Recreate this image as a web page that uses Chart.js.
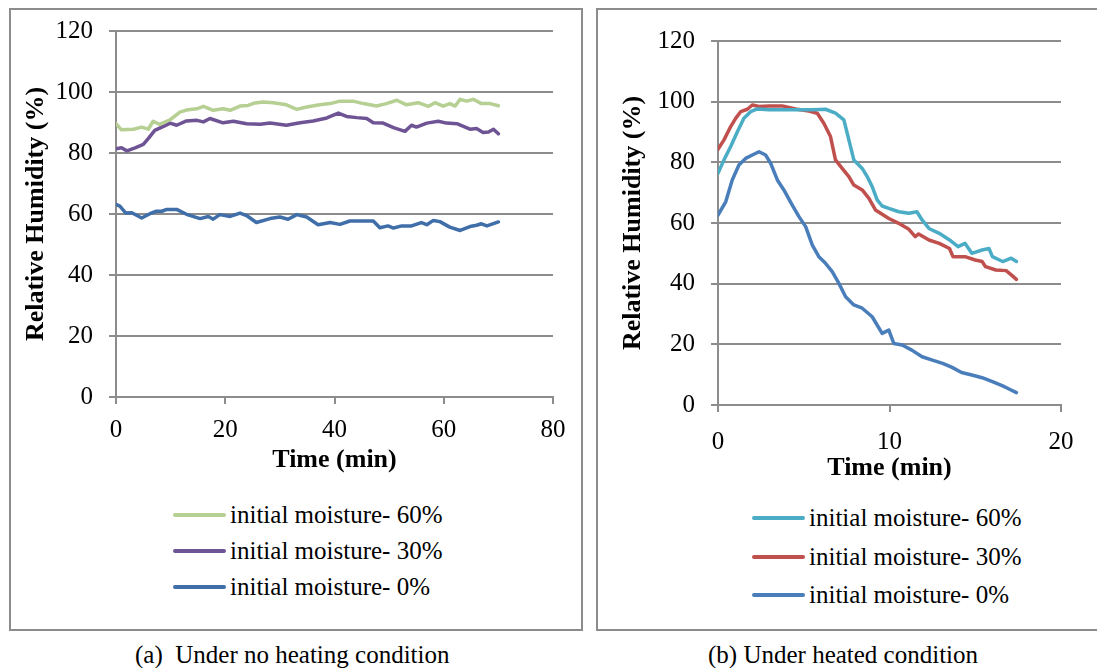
<!DOCTYPE html>
<html>
<head>
<meta charset="utf-8">
<script src="https://cdn.jsdelivr.net/npm/chart.js@4/dist/chart.umd.min.js"></script>
<style>
  body { margin: 0; background: #fff; width: 1097px; height: 668px; overflow: hidden; position: relative; font-family: "Liberation Serif", "Times New Roman", Tinos, "Nimbus Roman", "DejaVu Serif", serif; }
  .panel { position: absolute; border: 2px solid #8c8c8c; box-sizing: border-box; }
  canvas { position: absolute; }
  .legend { position: absolute; font-size: 25px; color: #000; }
  .legend .row { position: absolute; white-space: nowrap; height: 30px; line-height: 30px; }
  .legend .sw { position: absolute; left: 0; top: 13px; width: 53px; height: 4px; border-radius: 2px; }
  .legend .tx { position: absolute; left: 57px; top: 0; }
  .caption { position: absolute; font-size: 25px; white-space: nowrap; top: 641px; }
</style>
</head>
<body>
<div class="panel" style="left:9px; top:8px; width:574px; height:623px;"></div>
<div class="panel" style="left:596px; top:8px; width:520px; height:623px;"></div>
<canvas id="chartA" width="590" height="490" style="left:0; top:0;"></canvas>
<canvas id="chartB" width="507" height="500" style="left:590px; top:0;"></canvas>
<div class="legend" id="legendA" style="left:173px; top:500px;"></div>
<div class="legend" id="legendB" style="left:752px; top:503px;"></div>
<div class="caption" style="left:135px;">(a)&nbsp; Under no heating condition</div>
<div class="caption" style="left:708px;">(b) Under heated condition</div>
<script>
// (a) no heating
const timeA60 = [0, 1, 3.2, 4.7, 5.9, 6.8, 8, 9.9, 11.7, 13.2, 14.8, 16, 17.8, 19.6, 20.9, 22.7, 24.2, 25.4, 27, 28.8, 31.2, 33.1, 34.9, 37.3, 39.2, 41, 43.4, 45.3, 47.7, 49.5, 51.4, 53.2, 55.3, 57.2, 58.4, 59.9, 61.1, 62.1, 63, 64.2, 65.4, 66.9, 68.5, 70];
const rhA60 = [89.6, 87.6, 87.8, 88.5, 87.8, 90.4, 89.4, 90.9, 93.4, 94.2, 94.5, 95.3, 94, 94.5, 94, 95.4, 95.6, 96.4, 96.7, 96.5, 95.8, 94.3, 95.1, 95.8, 96.2, 97, 97, 96.2, 95.4, 96.2, 97.3, 95.8, 96.5, 95.3, 96.5, 95.4, 96.2, 95.4, 97.6, 97, 97.6, 96.2, 96.2, 95.5];

const timeA30 = [0, 1, 2, 3.5, 5, 5.9, 7.1, 8.7, 9.9, 11.1, 12.9, 14.8, 16, 17.2, 19.6, 21.5, 23.9, 26.4, 28.2, 31.2, 33.7, 36.1, 38.6, 40.7, 42.2, 44.1, 45.9, 47.1, 48.9, 50.8, 52.9, 54.1, 55, 56.9, 59, 60.5, 62.4, 64.8, 66, 67.2, 68.2, 69.1, 70];
const rhA30 = [81.4, 81.7, 80.7, 81.7, 82.8, 84.7, 87.4, 88.7, 89.8, 89.1, 90.5, 90.7, 90.2, 91.3, 89.9, 90.4, 89.6, 89.4, 89.8, 89.1, 89.9, 90.5, 91.5, 93.1, 92, 91.6, 91.3, 89.9, 89.8, 88.3, 87.1, 89.1, 88.5, 89.8, 90.4, 89.8, 89.6, 87.8, 88, 86.7, 86.9, 87.8, 86.3];

const timeA0 = [0, 0.7, 1.8, 2.9, 4.7, 6.2, 7.4, 8.4, 9.3, 11.1, 12.9, 15.4, 16.9, 17.8, 19, 20.9, 22.7, 23.9, 25.7, 28.2, 30, 31.5, 33.1, 34.9, 37, 39.2, 41, 42.8, 44.7, 47.1, 48.3, 49.8, 50.8, 52.3, 54.1, 55.9, 56.9, 58.1, 59.3, 61.1, 63, 64.8, 66, 66.9, 67.9, 70];
const rhA0 = [63.2, 62.6, 60.3, 60.4, 58.7, 60.1, 60.9, 60.9, 61.5, 61.5, 59.9, 58.5, 59.2, 58.3, 59.8, 59.2, 60.3, 59.5, 57.2, 58.5, 59, 58.3, 59.8, 59, 56.5, 57.2, 56.6, 57.7, 57.7, 57.7, 55.5, 56.1, 55.4, 56.1, 56.1, 57.2, 56.5, 57.9, 57.5, 55.7, 54.6, 55.9, 56.3, 56.8, 56.1, 57.4];

// (b) heated
const timeB60 = [0, 0.35, 0.74, 1.13, 1.51, 1.9, 2.29, 2.97, 3.94, 4.72, 5.5, 6.27, 6.85, 7.34, 7.63, 7.92, 8.41, 8.7, 8.99, 9.28, 9.57, 9.96, 10.54, 11.13, 11.6, 11.9, 12.3, 12.9, 13.5, 14, 14.4, 14.8, 15.4, 15.8, 16, 16.6, 17.1, 17.4];
const rhB60 = [76.4, 80.8, 85.2, 90.1, 94.5, 96.7, 97.6, 97.3, 97.3, 97.3, 97.3, 97.5, 96.2, 94, 87.4, 80.8, 78, 75.3, 72, 67.6, 65.6, 64.8, 63.7, 63.2, 63.7, 61, 58.2, 56.6, 54.4, 52.2, 53.3, 50, 51.1, 51.6, 48.9, 47.3, 48.4, 47.3];

const timeB30 = [0, 0.35, 0.74, 1.03, 1.32, 1.71, 2, 2.39, 2.97, 3.75, 4.52, 5.3, 5.79, 6.17, 6.56, 6.85, 7.24, 7.63, 7.92, 8.41, 8.8, 9.18, 9.48, 9.96, 10.54, 11.13, 11.5, 11.7, 12.3, 12.9, 13.5, 13.7, 14.4, 15, 15.4, 15.6, 16.2, 16.8, 17.1, 17.4];
const rhB30 = [84.3, 87.4, 91.8, 94.5, 96.7, 97.5, 98.9, 98.4, 98.6, 98.6, 97.6, 96.9, 96.2, 92.9, 88.5, 80.8, 78, 75.3, 72.5, 70.9, 68.1, 64.3, 63.2, 61.5, 59.9, 57.9, 55.5, 56.4, 54.4, 53.3, 51.6, 48.9, 48.9, 47.8, 47.3, 45.6, 44.5, 44.3, 42.9, 41.4];

const timeB0 = [0, 0.45, 0.83, 1.22, 1.61, 2, 2.39, 2.78, 3.07, 3.46, 3.84, 4.33, 4.72, 5.11, 5.5, 5.88, 6.27, 6.66, 7.05, 7.44, 7.92, 8.41, 8.99, 9.57, 9.96, 10.25, 10.74, 11.3, 11.9, 12.5, 13.1, 13.65, 14.2, 14.8, 15.4, 16, 16.6, 17, 17.4];
const rhB0 = [62.6, 67, 74.2, 79.1, 81.3, 82.4, 83.5, 82.4, 79.7, 74.2, 70.9, 65.9, 62.1, 58.8, 52.7, 48.9, 46.7, 44, 40.1, 35.7, 33, 31.9, 29.1, 23.6, 24.7, 20.3, 19.8, 18.1, 15.9, 14.8, 13.7, 12.4, 10.7, 9.9, 9, 7.7, 6.3, 5.2, 4.1];

const seriesLabels = ['initial moisture- 60%', 'initial moisture- 30%', 'initial moisture- 0%'];
const colorsA = ['#b6cf93', '#6f5495', '#3f6ea9'];
const colorsB = ['#4bacc6', '#c0504d', '#4a7ebb'];

function pts(t, v) {
    return t.map(function (x, i) { return { x: x, y: v[i] }; });
}

const gridColor = '#8c8c8c';
const serif = "'Liberation Serif', 'Times New Roman', Tinos, 'Nimbus Roman', 'DejaVu Serif', serif";

function makeOptions(xMax, xStep, pad, yWidth, xHeight, tickPadX) {
    return {
        responsive: false,
        animation: false,
        devicePixelRatio: 1,
        layout: { padding: pad },
        plugins: { legend: { display: false }, tooltip: { enabled: false } },
        elements: { point: { radius: 0 }, line: { tension: 0, borderWidth: 3.5, borderCapStyle: 'round', borderJoinStyle: 'round' } },
        scales: {
            x: {
                type: 'linear', min: 0, max: xMax,
                ticks: { stepSize: xStep, color: '#000', padding: tickPadX, maxRotation: 0,
                    font: { family: serif, size: 25 } },
                grid: { drawOnChartArea: false, drawTicks: true, tickLength: 7, color: gridColor, lineWidth: 2 },
                border: { color: gridColor, width: 2 },
                title: { display: true, text: 'Time (min)', color: '#000', padding: 0,
                    font: { family: serif, size: 26, weight: 'bold' } },
                afterFit: function (s) { s.height = xHeight; }
            },
            y: {
                min: 0, max: 120,
                ticks: { stepSize: 20, color: '#000', padding: 16,
                    font: { family: serif, size: 25 } },
                grid: { drawTicks: true, tickLength: 7, color: gridColor, lineWidth: 2 },
                border: { color: gridColor, width: 2 },
                title: { display: true, text: 'Relative Humidity (%)', color: '#000', padding: 0,
                    font: { family: serif, size: 26, weight: 'bold' } },
                afterFit: function (s) { s.width = yWidth; }
            }
        }
    };
}

function makeData(sets, colors) {
    return {
        datasets: sets.map(function (s, i) {
            return { label: seriesLabels[i], data: s, borderColor: colors[i], backgroundColor: colors[i], fill: false };
        })
    };
}

function buildLegend(chart, el, pitch) {
    chart.data.datasets.forEach(function (ds, i) {
        const row = document.createElement('div');
        row.className = 'row';
        row.style.top = (i * pitch) + 'px';
        row.innerHTML = '<span class="sw" style="background:' + ds.borderColor + '"></span><span class="tx">' + ds.label + '</span>';
        el.appendChild(row);
    });
}

const chartA = new Chart(document.getElementById('chartA').getContext('2d'), {
    type: 'line',
    data: makeData([pts(timeA60, rhA60), pts(timeA30, rhA30), pts(timeA0, rhA0)], colorsA),
    options: makeOptions(80, 20, { left: 21, top: 30, right: 37, bottom: 14 }, 95, 79, 11)
});

const chartB = new Chart(document.getElementById('chartB').getContext('2d'), {
    type: 'line',
    data: makeData([pts(timeB60, rhB60), pts(timeB30, rhB30), pts(timeB0, rhB0)], colorsB),
    options: makeOptions(20, 10, { left: 28, top: 41, right: 36, bottom: 16 }, 100, 79, 15)
});

buildLegend(chartA, document.getElementById('legendA'), 36);
buildLegend(chartB, document.getElementById('legendB'), 38.5);
</script>
</body>
</html>
